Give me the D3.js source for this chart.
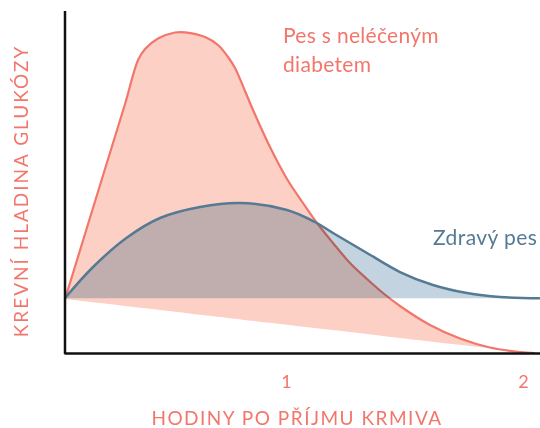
<!DOCTYPE html>
<html>
<head>
<meta charset="utf-8">
<script src="https://cdn.jsdelivr.net/npm/d3@7"></script>
<style>
  body { margin: 0; background: #fff; }
  svg text { font-family: Lato, "Noto Sans", sans-serif; }
</style>
</head>
<body>
<svg id="chart" width="540" height="428"></svg>
<script>
// hours after feeding / relative blood glucose
var diabeticHours   = [0.0675, 0.2152, 0.3207, 0.3755, 0.4051, 0.4599, 0.5316, 0.5738, 0.6582, 0.7131, 0.7553, 0.7848, 0.8270, 0.8608, 0.9325, 1.0042, 1.0717, 1.1308, 1.1983, 1.2700, 1.3418, 1.4093, 1.4810, 1.6076, 1.7342, 1.8608, 1.9873, 2.0506];
var diabeticGlucose = [15.79, 49.12, 72.81, 85.67, 88.89, 91.96, 93.71, 93.77, 92.40, 90.06, 86.55, 83.33, 76.61, 71.05, 60.23, 50.88, 43.86, 38.01, 32.16, 26.32, 21.64, 17.54, 13.74, 8.19, 4.24, 1.61, 0.29, 0];
var diabeticFloorHours   = [0.0675, 2.03];
var diabeticFloorGlucose = [15.79, 0];

var healthyHours   = [0.0675, 0.1857, 0.3291, 0.4684, 0.6371, 0.8059, 1.0042, 1.1224, 1.1983, 1.3418, 1.4810, 1.6203, 1.7637, 1.9030, 2.0717];
var healthyGlucose = [16.08, 25.15, 33.77, 39.47, 42.69, 43.86, 41.81, 38.30, 35.09, 29.24, 23.68, 19.88, 17.54, 16.37, 16.0];
var healthyBase = 16;

var tickValues = [1, 2];
var xTitle = "HODINY PO PŘÍJMU KRMIVA";
var yTitle = "KREVNÍ HLADINA GLUKÓZY";
var diabeticLabel = ["Pes s neléčeným", "diabetem"];
var healthyLabel = "Zdravý pes";

var red = "#f2766b", redFill = "#fcd0c5";
var blue = "#557a94", blueFill = "#c3d4e0";

var svg = d3.select("#chart");
var x = d3.scaleLinear().domain([0.063, 2.072]).range([64, 540]);
var y = d3.scaleLinear().domain([0, 100]).range([353, 11]);

var diabetic = diabeticHours.map(function(h, i) { return [h, diabeticGlucose[i]]; });
var healthy = healthyHours.map(function(h, i) { return [h, healthyGlucose[i]]; });
var floor = d3.scaleLinear().domain(diabeticFloorHours).range(diabeticFloorGlucose).clamp(true);

var redCurve = d3.curveCatmullRom.alpha(0.5);
var blueCurve = d3.curveCatmullRom.alpha(0.5);

svg.append("path")
  .attr("d", d3.area().curve(redCurve)
    .x(function(d) { return x(d[0]); })
    .y0(function(d) { return y(floor(d[0])); })
    .y1(function(d) { return y(d[1]); })(diabetic))
  .attr("fill", redFill);

svg.append("path")
  .attr("d", d3.line().curve(redCurve)
    .x(function(d) { return x(d[0]); })
    .y(function(d) { return y(d[1]); })(diabetic))
  .attr("fill", "none").attr("stroke", red).attr("stroke-width", 2.2);

svg.append("path")
  .attr("d", d3.area().curve(blueCurve)
    .x(function(d) { return x(d[0]); })
    .y0(y(healthyBase))
    .y1(function(d) { return y(d[1]); })(healthy))
  .attr("fill", blueFill)
  .style("mix-blend-mode", "multiply");

svg.append("path")
  .attr("d", d3.line().curve(blueCurve)
    .x(function(d) { return x(d[0]); })
    .y(function(d) { return y(d[1]); })(healthy))
  .attr("fill", "none").attr("stroke", blue).attr("stroke-width", 2.5);

// axes
svg.append("line")
  .attr("x1", 65).attr("x2", 65).attr("y1", 11).attr("y2", 354)
  .attr("stroke", "#111").attr("stroke-width", 2.5);

var xAxis = svg.append("g")
  .attr("transform", "translate(0,353)")
  .call(d3.axisBottom(x).tickValues(tickValues).tickSize(0).tickPadding(22).tickFormat(d3.format("d")));
xAxis.select(".domain").attr("stroke", "#111").attr("stroke-width", 2.5);
xAxis.selectAll("text").attr("fill", red).style("font-size", "18px").style("font-family", "Lato, sans-serif");

svg.append("text")
  .attr("x", 297).attr("y", 425)
  .attr("text-anchor", "middle")
  .attr("fill", red)
  .style("font-size", "19px")
  .style("letter-spacing", "1.5px")
  .text(xTitle);

svg.append("text")
  .attr("transform", "translate(28,191) rotate(-90)")
  .attr("text-anchor", "middle")
  .attr("fill", red)
  .style("font-size", "19px")
  .style("letter-spacing", "2px")
  .text(yTitle);

var lab = svg.append("text")
  .attr("x", 283).attr("y", 43)
  .attr("fill", red)
  .style("font-size", "21px")
  .style("letter-spacing", "0.3px");
lab.selectAll("tspan").data(diabeticLabel).enter().append("tspan")
  .attr("x", 283)
  .attr("dy", function(d, i) { return i ? 29 : 0; })
  .text(function(d) { return d; });

svg.append("text")
  .attr("x", 433).attr("y", 245)
  .attr("fill", blue)
  .style("font-size", "21px")
  .style("letter-spacing", "0.4px")
  .text(healthyLabel);
</script>
</body>
</html>
